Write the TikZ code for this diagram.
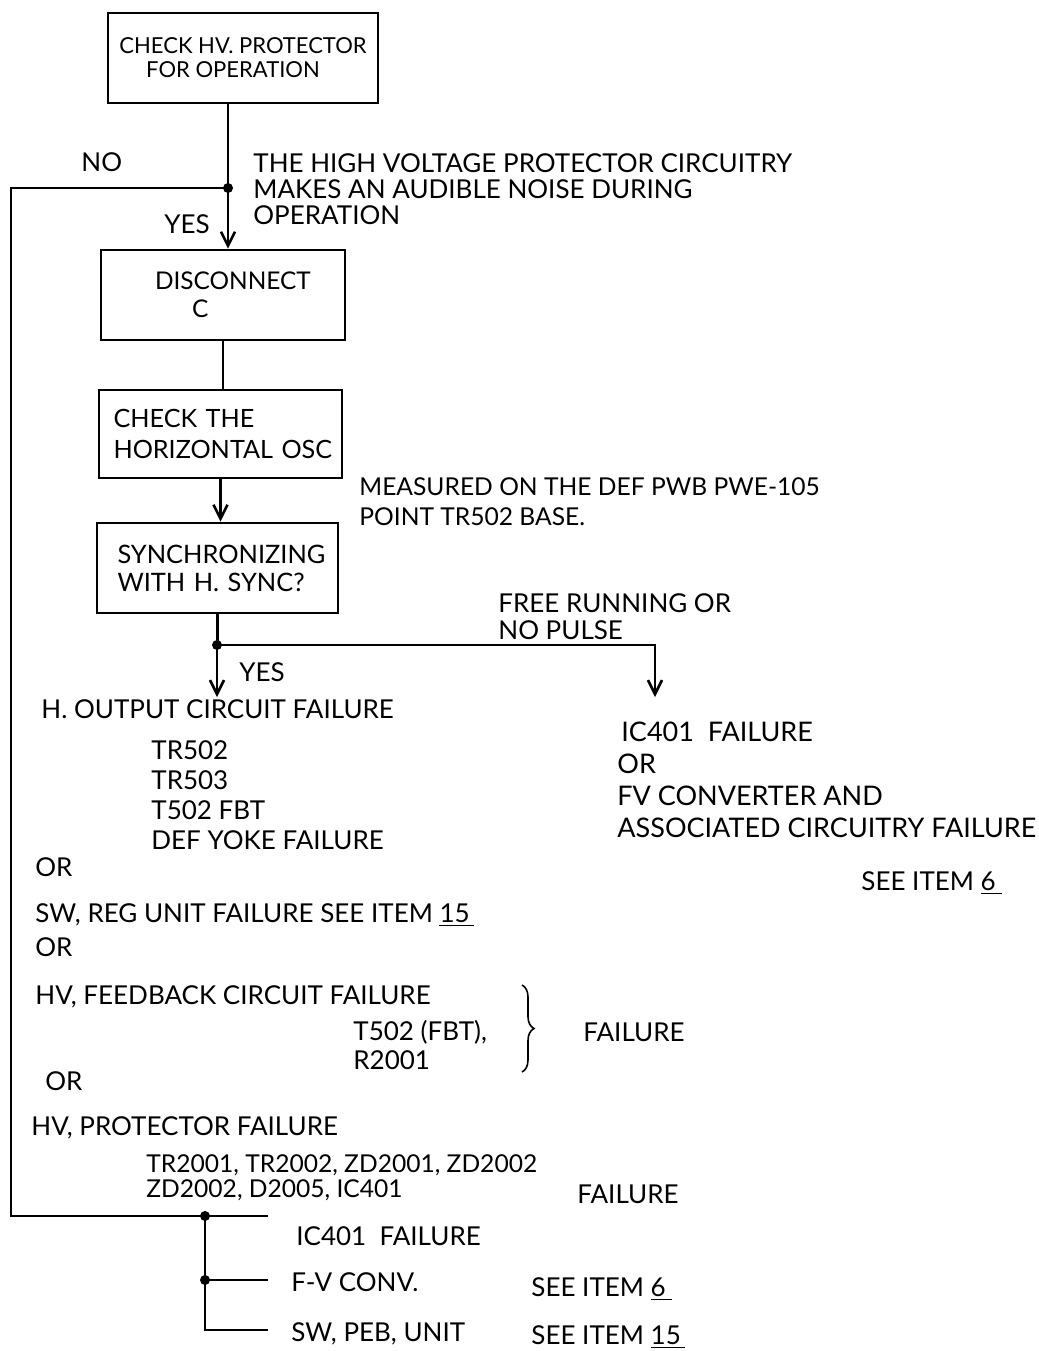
\documentclass[tikz,border=0pt]{standalone}
\usepackage{fontspec}
\setmainfont{Lato}
\usetikzlibrary{arrows.meta,decorations.pathreplacing}
\begin{document}
\begin{tikzpicture}[x=0.5pt,y=-0.5pt,
  line width=1.4pt,
  every node/.style={font=\fontsize{13}{14}\selectfont},
  box/.style={draw, line width=1.4pt, align=left, inner ysep=0pt},
  txt/.style={inner sep=0pt, anchor=base west, align=left},
  mtxt/.style={inner sep=0pt, anchor=north west, align=left},
  dot/.style={circle, fill=black, inner sep=0pt, minimum size=5pt},
  arr/.style={-{Straight Barb[length=7pt,width=7pt,line width=1.3pt]}}
]
\path[use as bounding box] (0,0) rectangle (1039,1351);

% boxes
\node[box, minimum width=135pt, minimum height=45pt, align=center,
      font=\fontsize{11}{12}\selectfont] (b1) at (243,58)
  {CHECK HV. PROTECTOR\\\hspace*{-10pt}FOR OPERATION};
\node[box, minimum width=122pt, minimum height=45pt, text width=102pt, inner xsep=10pt,
      font=\fontsize{12.2}{14}\selectfont] (b2) at (223,295)
  {\hspace*{17pt}DISCONNECT\\\hspace*{35.5pt}C};
\node[box, minimum width=121.5pt, minimum height=44pt, text width=113pt, inner xsep=4.25pt,
      font=\fontsize{12.6}{15.5}\selectfont] (b3) at (220.5,434)
  {\hspace*{3pt}CHECK THE\\\hspace*{3pt}HORIZONTAL OSC};
\node[box, minimum width=120.5pt, minimum height=45pt, text width=108pt, inner xsep=6.25pt,
      font=\fontsize{12.7}{14}\selectfont] (b4) at (217.5,568)
  {\hspace*{4pt}SYNCHRONIZING\\\hspace*{4pt}WITH H. SYNC?};

% junctions
\node[dot] (j1) at (228,188) {};
\node[dot] (j2) at (217,645) {};
\node[dot] (jb) at (205,1216) {};
\node[dot] (jm) at (205,1280) {};
\coordinate (cl1) at (11,188);
\coordinate (cl2) at (11,1216);
\coordinate (e1) at (268,1216);
\coordinate (e2) at (268,1280);
\coordinate (e3) at (268,1330);
\coordinate (jc) at (205,1330);
\coordinate (a1) at (217,697);
\coordinate (a2) at (655,697);

% texts
\node[txt] (tno) at (80,171.5) {NO};
\node[txt] (tyes1) at (163,233.5) {YES};
\node[mtxt, font=\fontsize{13}{13}\selectfont] (thv) at (252,152)
  {THE HIGH VOLTAGE PROTECTOR CIRCUITRY\\MAKES AN AUDIBLE NOISE DURING\\OPERATION};
\node[mtxt, font=\fontsize{12.3}{15}\selectfont] (tmeas) at (358,476)
  {MEASURED ON THE DEF PWB PWE-105\\POINT TR502 BASE.};
\node[mtxt, font=\fontsize{13}{13.5}\selectfont] (tfree) at (497,592)
  {FREE RUNNING OR\\NO PULSE};
\node[txt] (tyes2) at (238,681.5) {YES};
\node[txt] (thout) at (40,718.5) {H. OUTPUT CIRCUIT FAILURE};
\node[mtxt, font=\fontsize{13}{15}\selectfont] (ttr) at (150,739)
  {TR502\\TR503\\T502 FBT\\DEF YOKE FAILURE};
\node[mtxt, font=\fontsize{13.5}{16}\selectfont] (tic) at (616,721)
  {\hspace*{2pt}IC401\ \ FAILURE\\OR\\FV CONVERTER AND\\ASSOCIATED CIRCUITRY FAILURE};
\node[txt] (tsee6a) at (860,890.5) {SEE ITEM \underline{6\kern3pt}};
\node[txt] (tor1) at (34,876.5) {OR};
\node[txt] (tsw) at (34,922.5) {SW, REG UNIT FAILURE SEE ITEM \underline{15\kern2pt}};
\node[txt] (tor2) at (34,956.5) {OR};
\node[txt] (thvfb) at (34,1004.5) {HV, FEEDBACK CIRCUIT FAILURE};
\node[mtxt, font=\fontsize{13}{14.5}\selectfont] (tt502) at (352,1019)
  {T502 (FBT),\\R2001};
\node[txt] (tfail1) at (582,1041.5) {FAILURE};
\node[txt] (tor3) at (44,1090.5) {OR};
\node[txt] (thvp) at (30,1135.5) {HV, PROTECTOR FAILURE};
\node[mtxt, font=\fontsize{12.3}{12.5}\selectfont] (ttr2001) at (145,1153)
  {TR2001, TR2002, ZD2001, ZD2002\\ZD2002, D2005, IC401};
\node[txt] (tfail2) at (576,1203.5) {FAILURE};
\node[txt] (tic2) at (295,1245.5) {IC401\ \ FAILURE};
\node[txt] (tfv) at (290,1291.5) {F-V CONV.};
\node[txt] (tsee6b) at (530,1296.5) {SEE ITEM \underline{6\kern3pt}};
\node[txt] (tswpeb) at (290,1341.5) {SW, PEB, UNIT};
\node[txt] (tsee15) at (530,1344.5) {SEE ITEM \underline{15\kern2pt}};

% brace
\draw[line width=0.8pt, decorate, decoration={brace, amplitude=6pt}] (522,985) -- (522,1072);

% connectors
\draw (b1.south -| j1) -- (j1.center);
\draw[arr] (j1.center) -- (j1 |- b2.north);
\draw (j1.center) -- (cl1) -- (cl2) -- (e1);
\draw (b2.south) -- (b2.south |- b3.north);
\draw[arr] (b3.south) -- (b3.south |- b4.north);
\draw (b4.south) -- (b4.south |- j2.center);
\draw[arr] (j2.center) -- (a1);
\draw[arr] (j2.center) -| (a2);
\draw (jb.center) -- (jc) -- (e3);
\draw (jm.center) -- (e2);
\end{tikzpicture}
\end{document}
